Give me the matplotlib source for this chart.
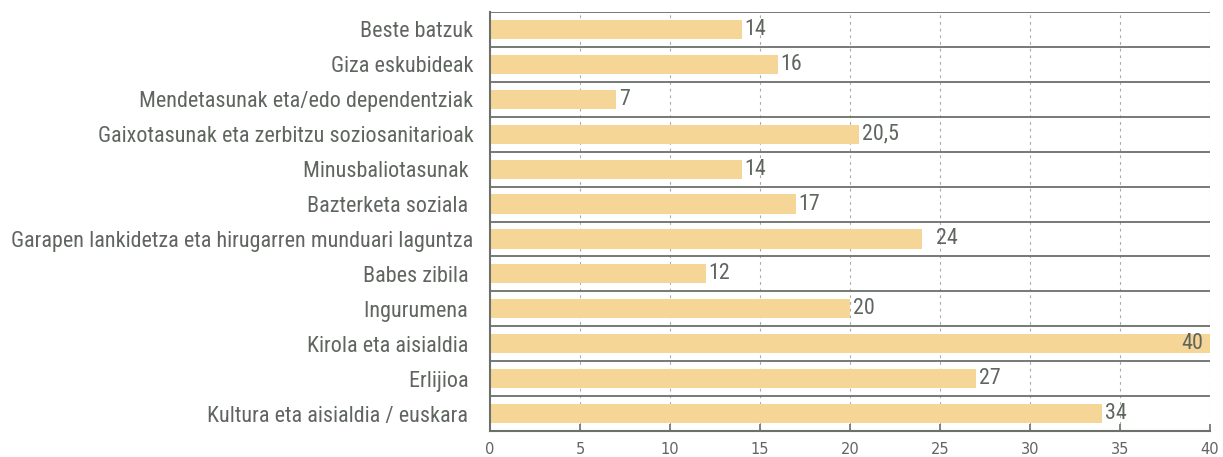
import matplotlib
matplotlib.use("Agg")
from matplotlib import pyplot as plt
from matplotlib import font_manager

# categories from top to bottom
categories = [
    "Beste batzuk",
    "Giza eskubideak",
    "Mendetasunak eta/edo dependentziak",
    "Gaixotasunak eta zerbitzu soziosanitarioak",
    "Minusbaliotasunak ",
    "Bazterketa soziala ",
    "Garapen lankidetza eta hirugarren munduari laguntza",
    "Babes zibila ",
    "Ingurumena ",
    "Kirola eta aisialdia ",
    "Erlijioa ",
    "Kultura eta aisialdia / euskara ",
]
values = [14, 16, 7, 20.5, 14, 17, 24, 12, 20, 40, 27, 34]
value_labels = ["14", "16", "7", "20,5", "14", "17", "24", "12", "20", "40", "27", "34"]
x_ticks = [0, 5, 10, 15, 20, 25, 30, 35, 40]

# pick a narrow font if one is installed
installed = {f.name for f in font_manager.fontManager.ttflist}
family = "DejaVu Sans"
for name in ["Liberation Sans Narrow", "Roboto Condensed", "Open Sans Condensed", "Lato"]:
    if name in installed:
        family = name
        break
plt.rcParams['font.family'] = [family, 'DejaVu Sans']

text_color = "#606560"
line_color = "#6b706b"
bar_color = "#f5d697"

fig = plt.figure(figsize=(12.23, 4.57), dpi=100)
ax = fig.add_axes([490 / 1223, 1 - 431 / 457, 720 / 1223, 419 / 457])

# size the labels so the longest one is about as wide as in the reference
renderer = fig.canvas.get_renderer()
probe = fig.text(0, 0, categories[6], fontsize=14)
w = probe.get_window_extent(renderer).width
probe.remove()
label_size = min(14 * 464 / w, 17)

n = len(categories)
ypos = list(range(n))
ax.barh(ypos, values, height=0.55, color=bar_color, zorder=2)

# value labels
for y, v, lab in zip(ypos, values, value_labels):
    if v >= 40:
        ax.text(v - 0.4, y, lab, ha="right", va="center", fontsize=label_size, color=text_color, zorder=3)
    else:
        pad = 0.8 if lab == "24" else 0.15
        ax.text(v + pad, y, lab, ha="left", va="center", fontsize=label_size, color=text_color, zorder=3)

# row separators
for k in range(n + 1):
    ax.axhline(k - 0.5, color=line_color, lw=1.3, zorder=1)

# vertical dashed grid
for t in x_ticks[1:]:
    ax.axvline(t, color="#a8aca8", lw=0.8, ls=(0, (2.5, 3.5)), zorder=0)

ax.set_xlim(0, 40)
ax.set_ylim(n - 0.5, -0.5)
ax.set_yticks(ypos)
ax.set_yticklabels(categories, fontsize=label_size, color=text_color)
ax.set_xticks(x_ticks)
ax.set_xticklabels([str(t) for t in x_ticks], fontsize=10.5, color=text_color,
                   fontfamily="DejaVu Sans")
ax.tick_params(axis="y", length=0, pad=12)
ax.tick_params(axis="x", direction="in", length=5, color=line_color, width=1.2, pad=8)

for side in ["top", "right"]:
    ax.spines[side].set_visible(False)
ax.spines["left"].set_color(line_color)
ax.spines["left"].set_linewidth(1.5)
ax.spines["bottom"].set_color(line_color)
ax.spines["bottom"].set_linewidth(1.5)

fig.savefig("out.png", dpi=100)
